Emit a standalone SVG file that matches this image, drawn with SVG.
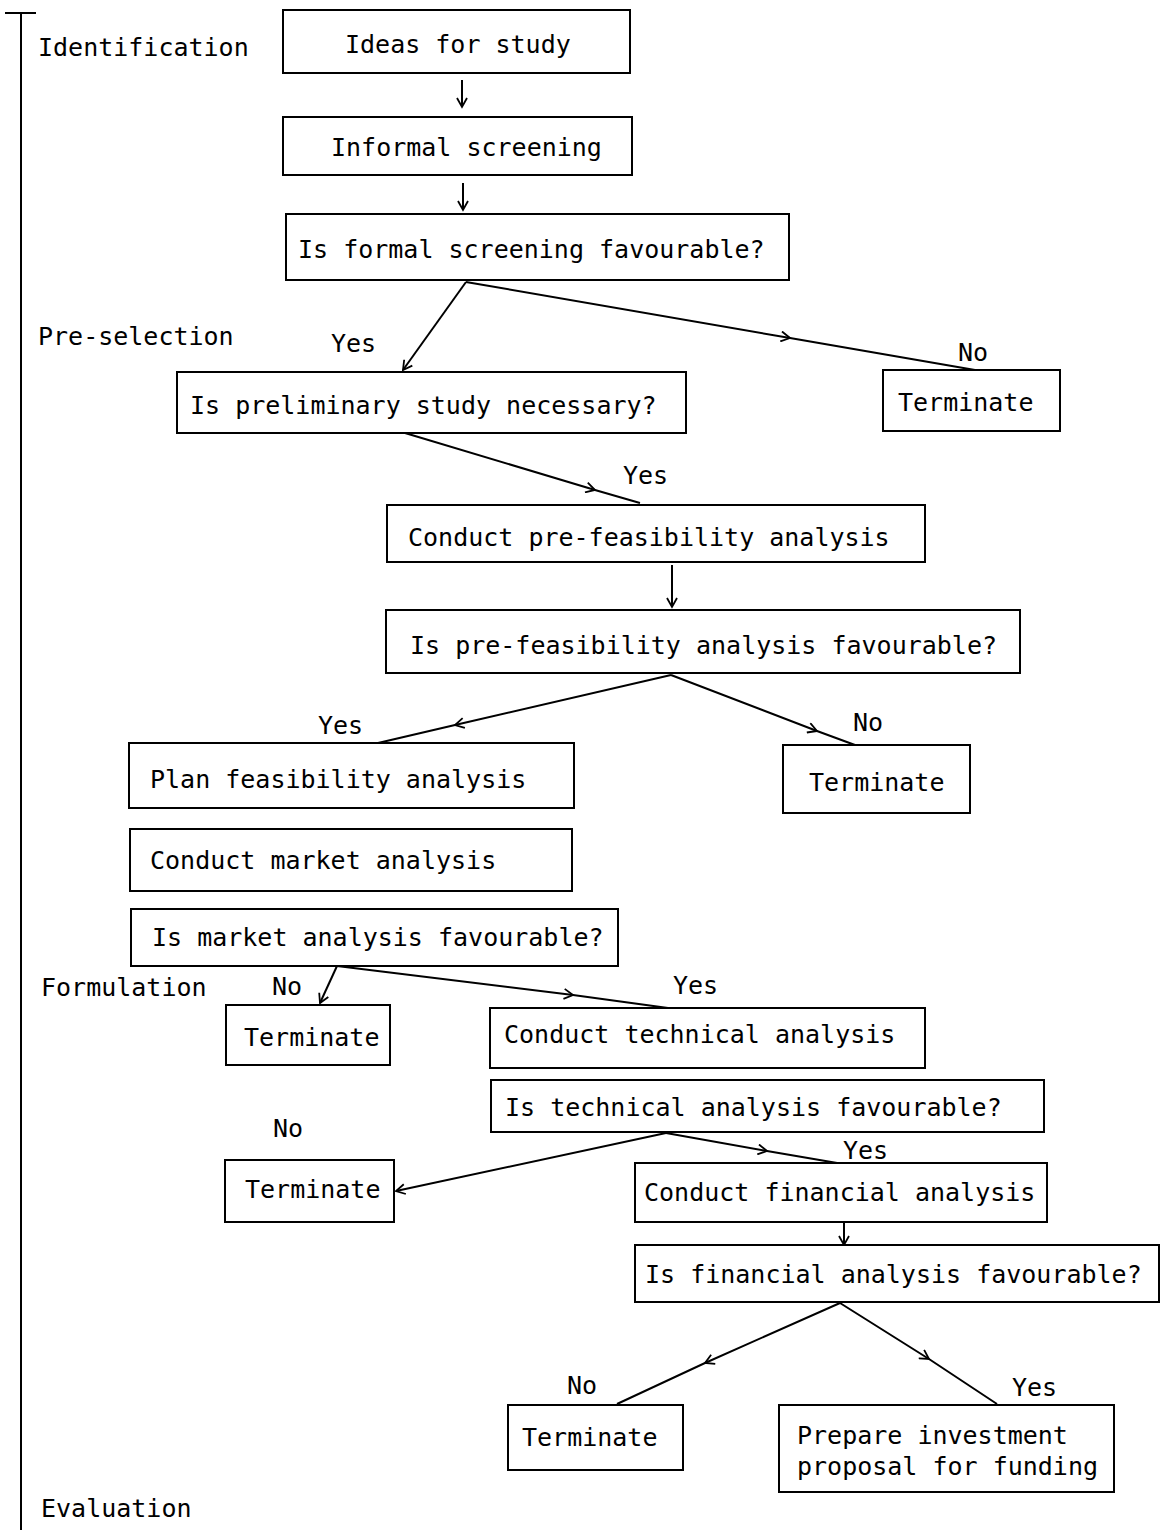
<svg xmlns="http://www.w3.org/2000/svg" width="1161" height="1530" viewBox="0 0 1161 1530">
<style>
.box{fill:#fff;stroke:#000;stroke-width:2}
.t{font-family:"DejaVu Sans Mono","Liberation Mono",monospace;font-size:25px;fill:#000}
.c{fill:none;stroke:#000;stroke-width:2}
</style>
<defs>
<marker id="ah" viewBox="0 0 12 12" refX="10" refY="6" markerWidth="12" markerHeight="12" markerUnits="userSpaceOnUse" orient="auto">
<path d="M1,1 L10,6 L1,11" fill="none" stroke="#000" stroke-width="1.8"/>
</marker>
</defs>
<rect width="1161" height="1530" fill="#fff"/>
<g id="phases">
<line x1="21" y1="13" x2="21" y2="1530" class="c"/>
<line x1="5" y1="13" x2="36" y2="13" class="c"/>
<text class="t" x="38" y="56">Identification</text>
<text class="t" x="38" y="345">Pre-selection</text>
<text class="t" x="41" y="996">Formulation</text>
<text class="t" x="41" y="1517">Evaluation</text>
</g>
<g id="connectors">
<path class="c" d="M462,80 L462,107" marker-end="url(#ah)"/>
<path class="c" d="M463,183 L463,210" marker-end="url(#ah)"/>
<path class="c" d="M466,282 L403,370" marker-end="url(#ah)"/>
<path class="c" d="M466,282 L790,338 L975,370" marker-mid="url(#ah)"/>
<path class="c" d="M405,433 L595,490 L640,503" marker-mid="url(#ah)"/>
<path class="c" d="M672,565 L672,607" marker-end="url(#ah)"/>
<path class="c" d="M671,675 L455,725 L378,743" marker-mid="url(#ah)"/>
<path class="c" d="M671,675 L817,731 L855,745" marker-mid="url(#ah)"/>
<path class="c" d="M337,966 L320,1003" marker-end="url(#ah)"/>
<path class="c" d="M337,966 L573,995 L668,1008" marker-mid="url(#ah)"/>
<path class="c" d="M666,1133 L396,1191" marker-end="url(#ah)"/>
<path class="c" d="M666,1133 L767,1151 L843,1164" marker-mid="url(#ah)"/>
<path class="c" d="M844,1222 L844,1245" marker-end="url(#ah)"/>
<path class="c" d="M840,1303 L705,1363 L617,1404" marker-mid="url(#ah)"/>
<path class="c" d="M840,1303 L929,1359 L997,1404" marker-mid="url(#ah)"/>
<text class="t" x="331" y="352">Yes</text>
<text class="t" x="958" y="361">No</text>
<text class="t" x="623" y="484">Yes</text>
<text class="t" x="318" y="734">Yes</text>
<text class="t" x="853" y="731">No</text>
<text class="t" x="272" y="995">No</text>
<text class="t" x="673" y="994">Yes</text>
<text class="t" x="273" y="1137">No</text>
<text class="t" x="843" y="1159">Yes</text>
<text class="t" x="567" y="1394">No</text>
<text class="t" x="1012" y="1396">Yes</text>
</g>
<g id="n1"><rect class="box" x="283" y="10" width="347" height="63"/><text class="t" x="345" y="53">Ideas for study</text></g>
<g id="n2"><rect class="box" x="283" y="117" width="349" height="58"/><text class="t" x="331" y="156">Informal screening</text></g>
<g id="n3"><rect class="box" x="286" y="214" width="503" height="66"/><text class="t" x="298" y="258">Is formal screening favourable?</text></g>
<g id="n4"><rect class="box" x="177" y="372" width="509" height="61"/><text class="t" x="190" y="414">Is preliminary study necessary?</text></g>
<g id="n5"><rect class="box" x="883" y="370" width="177" height="61"/><text class="t" x="898" y="411">Terminate</text></g>
<g id="n6"><rect class="box" x="387" y="505" width="538" height="57"/><text class="t" x="408" y="546">Conduct pre-feasibility analysis</text></g>
<g id="n7"><rect class="box" x="386" y="610" width="634" height="63"/><text class="t" x="410" y="654">Is pre-feasibility analysis favourable?</text></g>
<g id="n8"><rect class="box" x="129" y="743" width="445" height="65"/><text class="t" x="150" y="788">Plan feasibility analysis</text></g>
<g id="n9"><rect class="box" x="783" y="745" width="187" height="68"/><text class="t" x="809" y="791">Terminate</text></g>
<g id="n10"><rect class="box" x="130" y="829" width="442" height="62"/><text class="t" x="150" y="869">Conduct market analysis</text></g>
<g id="n11"><rect class="box" x="131" y="909" width="487" height="57"/><text class="t" x="152" y="946">Is market analysis favourable?</text></g>
<g id="n12"><rect class="box" x="226" y="1005" width="164" height="60"/><text class="t" x="244" y="1046">Terminate</text></g>
<g id="n13"><rect class="box" x="490" y="1008" width="435" height="60"/><text class="t" x="504" y="1043">Conduct technical analysis</text></g>
<g id="n14"><rect class="box" x="491" y="1080" width="553" height="52"/><text class="t" x="505" y="1116">Is technical analysis favourable?</text></g>
<g id="n15"><rect class="box" x="225" y="1160" width="169" height="62"/><text class="t" x="245" y="1198">Terminate</text></g>
<g id="n16"><rect class="box" x="635" y="1163" width="412" height="59"/><text class="t" x="644" y="1201">Conduct financial analysis</text></g>
<g id="n17"><rect class="box" x="635" y="1245" width="524" height="57"/><text class="t" x="645" y="1283">Is financial analysis favourable?</text></g>
<g id="n18"><rect class="box" x="508" y="1405" width="175" height="65"/><text class="t" x="522" y="1446">Terminate</text></g>
<g id="n19"><rect class="box" x="779" y="1405" width="335" height="87"/><text class="t" x="797" y="1444">Prepare investment</text><text class="t" x="797" y="1475">proposal for funding</text></g>
</svg>
